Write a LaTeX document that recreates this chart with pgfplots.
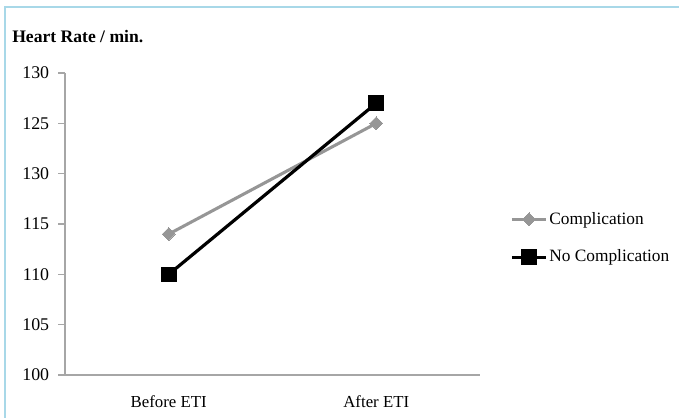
\documentclass[border=0pt]{standalone}
\usepackage{fontspec}
\setmainfont{Liberation Serif}
\usepackage{pgfplots}
\pgfplotsset{compat=1.18}
\definecolor{framec}{HTML}{A8D8E8}
\definecolor{axc}{HTML}{A6A6A6}
\definecolor{grayser}{HTML}{969696}
\begin{document}
\fontsize{12.6pt}{15pt}\selectfont
\begin{tikzpicture}[x=0.75pt,y=0.75pt]
\useasboundingbox (0,0) rectangle (679,418);
\fill[white] (0,0) rectangle (679,418);
\draw[framec, line width=1.1pt] (5,0) -- (5,411) -- (679,411);
\node[anchor=west, inner sep=0pt, font=\fontsize{13.2pt}{16pt}\selectfont\bfseries] at (12,381) {Heart Rate / min.};
\begin{axis}[
  at={(48.75pt,32.25pt)}, anchor=south west,
  scale only axis, width=311.25pt, height=226.5pt,
  xmin=-0.5, xmax=1.5, ymin=100, ymax=130,
  axis x line*=bottom, axis y line*=left,
  axis line style={axc, line width=0.9pt},
  xtick={0,1}, xticklabels={Before ETI, After ETI},
  major x tick style={draw=none},
  extra x ticks={-0.5,0.5,1.5}, extra x tick labels={},
  extra x tick style={tick style={axc, line width=0.9pt}, major tick length=5pt},
  ytick={100,105,110,115,120,125,130},
  yticklabels={100,105,110,115,130,125,130},
  y tick style={axc, line width=0.9pt},
  tick align=outside, major tick length=5pt,
  tick label style={font=\fontsize{12.6pt}{15pt}\selectfont, text=black},
  xticklabel style={yshift=-6pt},
  yticklabel style={xshift=-2.5pt, font=\fontsize{13.4pt}{15pt}\selectfont},
  /pgf/number format/assume math mode=true,
  clip=false,
  legend style={at={(1.072,0.453)}, anchor=west, draw=none, fill=none,
    font=\fontsize{13pt}{15pt}\selectfont, row sep=15.5pt, inner sep=0pt,
    nodes={inner sep=1pt}},
  legend cell align=left,
  legend image code/.code={\draw[mark repeat=2,mark phase=2,#1] plot coordinates {(0pt,0pt)(13pt,0pt)(26pt,0pt)};},
]
\addplot[grayser, line width=2.3pt, mark=square*, mark size=3.4pt, mark options={rotate=45, fill=grayser, draw=grayser, line width=0pt}]
  coordinates {(0,114) (1,125)};
\addlegendentry{Complication}
\addplot[black, line width=2.4pt, mark=square*, mark size=5.5pt, mark options={fill=black, line width=0pt}]
  coordinates {(0,110) (1,127)};
\addlegendentry{No Complication}
\end{axis}
\end{tikzpicture}
\end{document}
